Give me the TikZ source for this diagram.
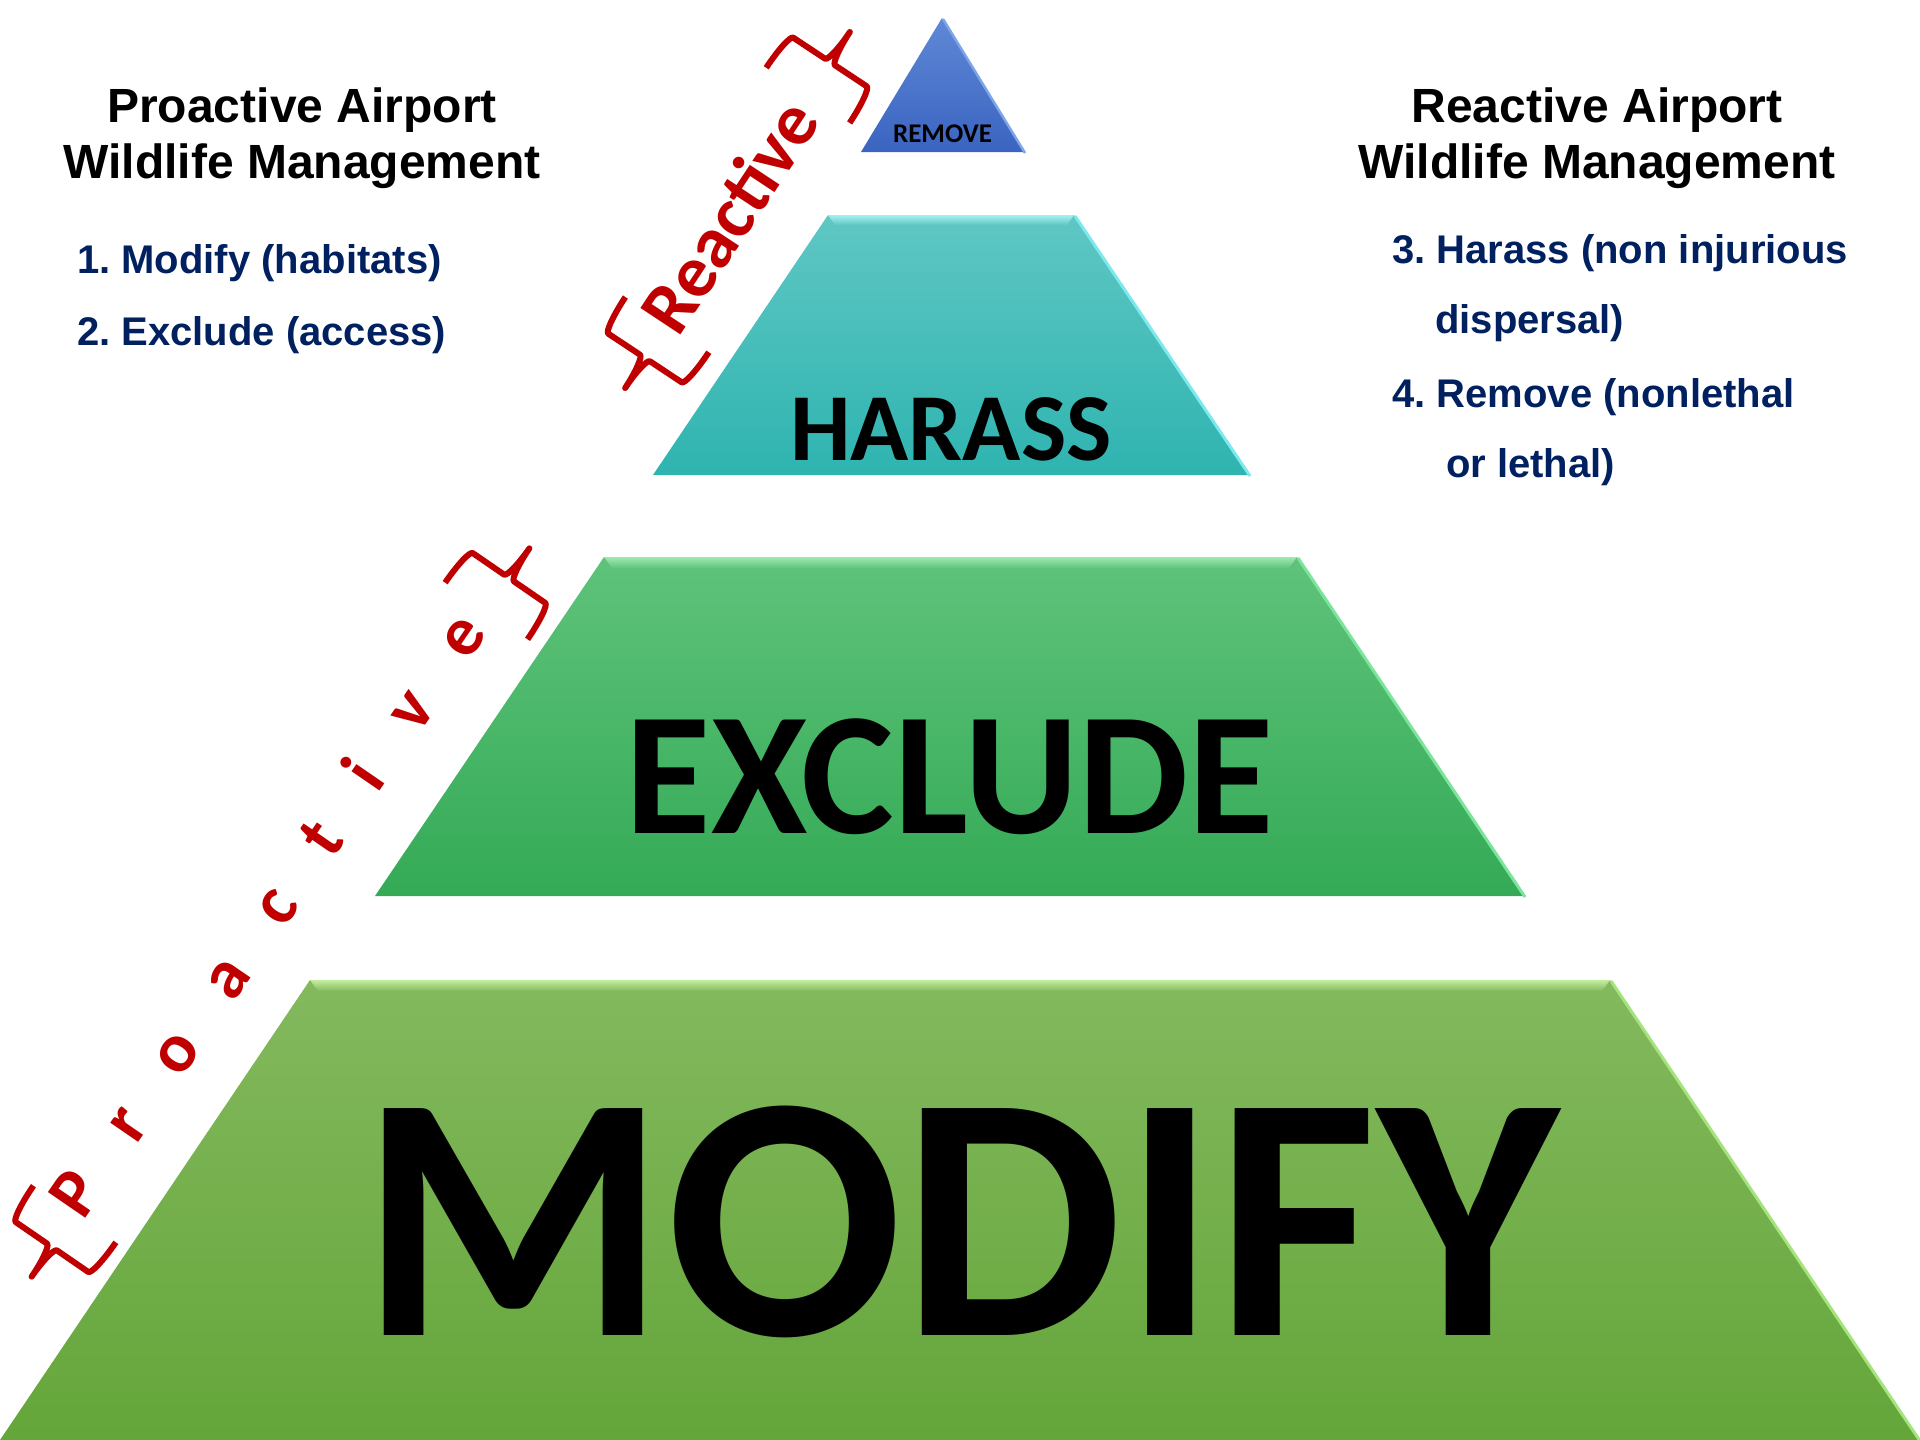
\documentclass[tikz,border=0pt]{standalone}
\usepackage{fontspec}
\setmainfont{Liberation Sans}
\newfontfamily\calib{Carlito}
\frenchspacing
\definecolor{navy}{RGB}{0,32,96}
\definecolor{brred}{RGB}{192,0,0}
\definecolor{modT}{RGB}{132,185,94}
\definecolor{modB}{RGB}{100,166,58}
\definecolor{modL}{RGB}{195,238,160}
\definecolor{modE}{RGB}{165,228,125}
\definecolor{excT}{RGB}{95,195,123}
\definecolor{excB}{RGB}{52,170,86}
\definecolor{excL}{RGB}{160,234,178}
\definecolor{excE}{RGB}{125,228,155}
\definecolor{harT}{RGB}{95,199,196}
\definecolor{harB}{RGB}{47,180,176}
\definecolor{harL}{RGB}{165,240,240}
\definecolor{harE}{RGB}{125,232,238}
\definecolor{remT}{RGB}{95,136,214}
\definecolor{remB}{RGB}{58,100,192}
\definecolor{remE}{RGB}{125,165,232}
\newcommand\mybrace[4]{%
  \begin{scope}[shift={#1}, rotate=#2, yscale=-1, xscale=#3]
    \draw[bracestyle] (40,50) .. controls (18,50) and (0,47.3) .. (0,44) -- (0,6)
      .. controls (0,2.7) and (-18,0) .. (-36,0)
      .. controls (-18,0) and (0,-2.7) .. (0,-6) -- (0,-44)
      .. controls (0,-47.3) and (18,-50) .. (40,-50);
    \coordinate (#4) at (0,0);
  \end{scope}}
\begin{document}
\begin{tikzpicture}[x=1pt,y=-1pt,
  bracestyle/.style={draw=brred, line width=6pt, line join=round, line cap=butt},
  head/.style={inner sep=0pt, anchor=base, font=\bfseries\fontsize{48}{56}\selectfont},
  item/.style={inner sep=0pt, anchor=base west, text=navy, font=\bfseries\fontsize{40}{44}\selectfont},
  level/.style={inner sep=0pt, anchor=base, font=\calib\bfseries},
  slant/.style={inner sep=0pt, anchor=center, text=brred}]
\useasboundingbox (0,0) rectangle (1920,1440);
\fill[white] (0,0) rectangle (1920,1440);

% MODIFY layer
\shade[top color=modT, bottom color=modB] (310,980) -- (1610,980) -- (1920,1440) -- (0,1440) -- cycle;
\shade[top color=modL, bottom color=modT] (310,980) -- (1610,980) -- (1602,991) -- (318,991) -- cycle;
\draw[modE, line width=3pt] (1611,981) -- (1920,1441);
% EXCLUDE layer
\shade[top color=excT, bottom color=excB] (604,557) -- (1297,557) -- (1524,896) -- (375,896) -- cycle;
\shade[top color=excL, bottom color=excT] (604,557) -- (1297,557) -- (1289,568) -- (612,568) -- cycle;
\draw[excE, line width=3pt] (1298,558) -- (1525,897);
% HARASS layer
\shade[top color=harT, bottom color=harB] (828,215) -- (1074,215) -- (1249,475) -- (653,475) -- cycle;
\shade[top color=harL, bottom color=harT] (828,215) -- (1074,215) -- (1067,225) -- (835,225) -- cycle;
\draw[harE, line width=3pt] (1075,216) -- (1250,476);
% REMOVE layer
\shade[top color=remT, bottom color=remB] (942,18) -- (1024,152) -- (861,152) -- cycle;
\draw[remE, line width=2.5pt] (943,19) -- (1025,153);

% level labels
\node[level, font=\calib\bfseries\fontsize{350}{350}\selectfont] (modify) at (960,1335) {MODIFY};
\node[level, font=\calib\bfseries\fontsize{175}{175}\selectfont] (exclude) at (950,833) {EXCLUDE};
\node[level, font=\calib\bfseries\fontsize{96}{96}\selectfont] (harass) at (951,460) {HARASS};
\node[level, font=\calib\bfseries\fontsize{27}{27}\selectfont] (remove) at (942.5,142) {REMOVE};

% headings
\node[head] (ph1) at (302,122) {Proactive Airport};
\node[head] (ph2) at (302,178) {Wildlife Management};
\node[head] (rh1) at (1597,122) {Reactive Airport};
\node[head] (rh2) at (1597,178) {Wildlife Management};

% lists
\node[item] (l1) at (77,273) {1. Modify (habitats)};
\node[item] (l2) at (77,345) {2. Exclude (access)};
\node[item] (r1) at (1392,263) {3. Harass (non injurious};
\node[item] (r2) at (1435,333) {dispersal)};
\node[item] (r3) at (1392,407) {4. Remove (nonlethal};
\node[item] (r4) at (1446,477) {or lethal)};

% slanted labels
\node[slant, rotate=56.5, font=\calib\bfseries\fontsize{74}{74}\selectfont] (reactive) at (729,216) {Reactive};
\node[slant, rotate=55.5, font=\calib\bfseries\fontsize{70}{70}\selectfont] (proactive) at (266,914)
  {P\kern55pt r\kern55pt o\kern55pt a\kern55pt c\kern55pt t\kern55pt i\kern55pt v\kern55pt e};

% braces
\mybrace{(645,358)}{56.5}{1}{rbL}
\mybrace{(830,62)}{56.5}{-1}{rbR}
\mybrace{(52,1247)}{55.5}{1}{pbL}
\mybrace{(509,578)}{55.5}{-1}{pbR}
\end{tikzpicture}
\end{document}
